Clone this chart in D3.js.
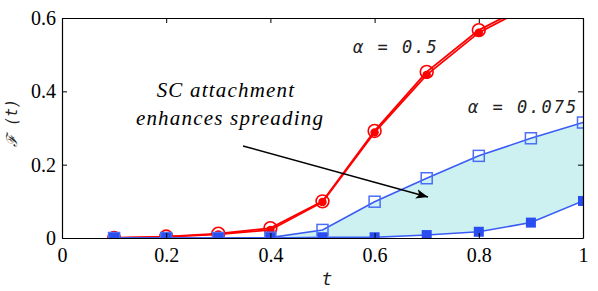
<!DOCTYPE html>
<html>
<head>
<meta charset="utf-8">
<script src="https://cdn.jsdelivr.net/npm/d3@7"></script>
<style>
  html, body { margin: 0; padding: 0; background: #fff; }
  svg { display: block; }
</style>
</head>
<body>
<svg id="chart" width="598" height="291"></svg>
<script>
const tValues = [0.1, 0.2, 0.3, 0.4, 0.5, 0.6, 0.7, 0.8, 0.9, 1.0];
const redOpen = [0.0, 0.004, 0.012, 0.027, 0.1, 0.292, 0.453, 0.567, 0.64, 0.71];
const redFilled = [0.0, 0.003, 0.01, 0.022, 0.098, 0.288, 0.445, 0.56, 0.634, 0.70];
const blueOpen = [0.0, 0.0, 0.0, 0.001, 0.022, 0.099, 0.163, 0.224, 0.272, 0.315];
const blueFilled = [0.0, 0.0, 0.0, 0.0, 0.002, 0.002, 0.008, 0.017, 0.042, 0.101];
const xTicks = [0, 0.2, 0.4, 0.6, 0.8, 1];
const yTicks = [0, 0.2, 0.4, 0.6];

const margin = { left: 62, top: 18, right: 15, bottom: 53 };
const width = 598;
const height = 291;
const SERIF = "Liberation Serif";
const MONO = "DejaVu Sans Mono";

const svg = d3.select("#chart");
const x = d3.scaleLinear().domain([0, 1]).range([margin.left, width - margin.right]);
const y = d3.scaleLinear().domain([0, 0.6]).range([height - margin.bottom, margin.top]);

svg.append("defs").append("clipPath").attr("id", "plot-clip")
  .append("rect")
  .attr("x", x(0)).attr("y", y(0.6))
  .attr("width", x(1) - x(0)).attr("height", y(0) - y(0.6));

const plot = svg.append("g").attr("clip-path", "url(#plot-clip)");

// shaded gap between the two alpha = 0.075 curves
const bandData = tValues.map((t, i) => ({ t, hi: blueOpen[i], lo: blueFilled[i] })).filter((d) => d.t >= 0.4);
plot.append("path")
  .datum(bandData)
  .attr("d", d3.area().x((d) => x(d.t)).y0((d) => y(d.lo)).y1((d) => y(d.hi)))
  .attr("fill", "#cdf1f1");

const line = d3.line().x((d) => x(d[0])).y((d) => y(d[1]));
const pts = (vals) => tValues.map((t, i) => [t, vals[i]]);

function drawSeries(vals, color, strokeWidth) {
  plot.append("path")
    .datum(pts(vals))
    .attr("d", line)
    .attr("fill", "none")
    .attr("stroke", color)
    .attr("stroke-width", strokeWidth);
}

drawSeries(redOpen, "#ff0000", 1.8);
drawSeries(redFilled, "#ff0000", 1.8);

plot.append("g").selectAll("circle")
  .data(pts(redOpen))
  .join("circle")
  .attr("cx", (d) => x(d[0])).attr("cy", (d) => y(d[1]))
  .attr("r", 6.4)
  .attr("fill", "none").attr("stroke", "#ff0000").attr("stroke-width", 1.6);

plot.append("g").selectAll("circle")
  .data(pts(redFilled))
  .join("circle")
  .attr("cx", (d) => x(d[0])).attr("cy", (d) => y(d[1]))
  .attr("r", 4.2)
  .attr("fill", "#ff0000");

drawSeries(blueOpen, "#3a5cf5", 1.6);
drawSeries(blueFilled, "#3a5cf5", 1.6);

plot.append("g").selectAll("rect")
  .data(pts(blueOpen))
  .join("rect")
  .attr("x", (d) => x(d[0]) - 5.5).attr("y", (d) => y(d[1]) - 5.5)
  .attr("width", 11).attr("height", 11)
  .attr("fill", "none").attr("stroke", "#4a6ef6").attr("stroke-width", 1.5);

plot.append("g").selectAll("rect")
  .data(pts(blueFilled))
  .join("rect")
  .attr("x", (d) => x(d[0]) - 5).attr("y", (d) => y(d[1]) - 5)
  .attr("width", 10).attr("height", 10)
  .attr("fill", "#2a4ef0");

// frame with inward ticks on all four sides
const axisBottomG = svg.append("g").attr("transform", `translate(0,${y(0)})`)
  .call(d3.axisBottom(x).tickValues(xTicks).tickFormat(d3.format("")).tickSizeInner(-5).tickSizeOuter(0).tickPadding(10));
const axisLeftG = svg.append("g").attr("transform", `translate(${x(0)},0)`)
  .call(d3.axisLeft(y).tickValues(yTicks).tickFormat(d3.format("")).tickSizeInner(-5).tickSizeOuter(0).tickPadding(6));
const axisTopG = svg.append("g").attr("transform", `translate(0,${y(0.6)})`)
  .call(d3.axisTop(x).tickValues(xTicks).tickFormat("").tickSizeInner(-5).tickSizeOuter(0));
const axisRightG = svg.append("g").attr("transform", `translate(${x(1)},0)`)
  .call(d3.axisRight(y).tickValues(yTicks).tickFormat("").tickSizeInner(-5).tickSizeOuter(0));

[axisBottomG, axisLeftG, axisTopG, axisRightG].forEach((g) => {
  g.attr("font-family", SERIF).attr("font-size", 20);
  g.selectAll("path.domain").attr("stroke", "#000").attr("stroke-width", 1.2);
  g.selectAll("line").attr("stroke", "#000");
  g.selectAll("text").attr("font-family", SERIF).attr("font-size", 20).attr("fill", "#000");
});

svg.append("text")
  .attr("x", 327)
  .attr("y", 285)
  .attr("text-anchor", "middle")
  .attr("font-family", MONO)
  .attr("font-style", "italic")
  .attr("font-size", 18)
  .attr("fill", "#222")
  .text("t");

svg.append("text")
  .attr("transform", "translate(17,123) rotate(-90)")
  .attr("text-anchor", "middle")
  .attr("font-family", MONO)
  .attr("font-style", "italic")
  .attr("font-size", 15)
  .attr("fill", "#222")
  .text("\u2131 (t)");

svg.append("text")
  .attr("x", 353).attr("y", 53)
  .attr("font-family", MONO).attr("font-style", "italic")
  .attr("font-size", 17).attr("letter-spacing", 2)
  .attr("fill", "#222")
  .text("\u03b1 = 0.5");

svg.append("text")
  .attr("x", 468).attr("y", 113)
  .attr("font-family", MONO).attr("font-style", "italic")
  .attr("font-size", 17).attr("letter-spacing", 2)
  .attr("fill", "#222")
  .text("\u03b1 = 0.075");

const note = svg.append("text")
  .attr("font-family", SERIF)
  .attr("font-style", "italic")
  .attr("font-size", 21)
  .attr("letter-spacing", 1.2)
  .attr("fill", "#000")
  .attr("text-anchor", "middle");
note.append("tspan").attr("x", 226).attr("y", 97).text("SC attachment");
note.append("tspan").attr("x", 230).attr("y", 125).text("enhances spreading");

svg.append("defs").append("marker")
  .attr("id", "arrowhead")
  .attr("viewBox", "0 0 10 10")
  .attr("refX", 10).attr("refY", 5)
  .attr("markerWidth", 12).attr("markerHeight", 12)
  .attr("markerUnits", "userSpaceOnUse")
  .attr("orient", "auto")
  .append("path")
  .attr("d", "M0,1 L10,5 L0,9 L2.5,5 Z")
  .attr("fill", "#000");

svg.append("line")
  .attr("x1", 243).attr("y1", 146)
  .attr("x2", 428).attr("y2", 197)
  .attr("stroke", "#000").attr("stroke-width", 1.5)
  .attr("marker-end", "url(#arrowhead)");
</script>
</body>
</html>
